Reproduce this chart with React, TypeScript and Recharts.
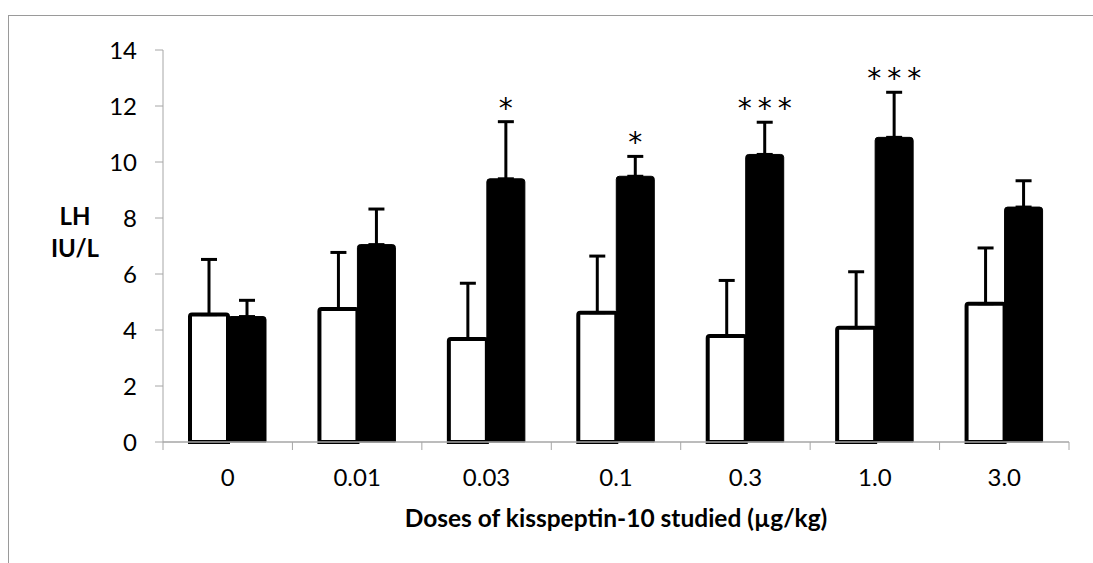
import React from "react";
import { BarChart, Bar, XAxis, YAxis, ErrorBar, LabelList, Label } from "recharts";

const doses = ["0", "0.01", "0.03", "0.1", "0.3", "1.0", "3.0"];
const controlLH = [4.55, 4.75, 3.68, 4.62, 3.79, 4.08, 4.94];
const controlSE = [1.97, 2.02, 1.99, 2.02, 1.98, 2.0, 1.99];
const kisspeptinLH = [4.48, 7.05, 9.4, 9.49, 10.27, 10.88, 8.39];
const kisspeptinSE = [0.58, 1.27, 2.04, 0.71, 1.15, 1.61, 0.94];
const significance = ["", "", "*", "*", "***", "***", ""];
const yTicks = [0, 2, 4, 6, 8, 10, 12, 14];

const data = doses.map((dose, i) => ({
  dose,
  control: controlLH[i],
  controlErr: [0, controlSE[i]],
  kisspeptin: kisspeptinLH[i],
  kisspeptinErr: [0, kisspeptinSE[i]],
  sig: significance[i],
}));

const FONT = "Lato, 'Open Sans', sans-serif";
const AXIS_GREY = "#a6a6a6";

function DoseTick(props: any) {
  const { x, y, payload, index } = props;
  const half = payload.offset ?? 0;
  const last = index === doses.length - 1;
  return (
    <g>
      <line x1={x - half} x2={x - half} y1={y} y2={y + 8} stroke={AXIS_GREY} />
      {last && <line x1={x + half} x2={x + half} y1={y} y2={y + 8} stroke={AXIS_GREY} />}
      <text x={x} y={y + 44} textAnchor="middle" fontFamily={FONT} fontSize={24} fill="#000">
        {payload.value}
      </text>
    </g>
  );
}

// stars sit just above the kisspeptin error bar
function StarLabel(props: any) {
  const vb = props.viewBox ?? props;
  const { x, y, width, height } = vb;
  const i = props.index;
  const value = props.value;
  if (!value || i == null) return null;
  const errPx = (height * kisspeptinSE[i]) / kisspeptinLH[i];
  const top = y - errPx;
  const spacing = 6;
  return (
    <text
      x={x + width / 2 + spacing / 2}
      y={top - 4}
      textAnchor="middle"
      fontFamily="'DejaVu Sans', sans-serif"
      fontSize={28}
      letterSpacing={spacing}
      fill="#000"
    >
      {value}
    </text>
  );
}

export default function App() {
  return (
    <div style={{ position: "relative", width: 1093, height: 563, overflow: "hidden", background: "#fff" }}>
      <style>{`body{margin:0;overflow:hidden}`}</style>
      <div
        style={{
          position: "absolute",
          left: 8,
          top: 15,
          width: 1100,
          height: 560,
          borderTop: `1px solid #9a9a9a`,
          borderLeft: `1px solid #9a9a9a`,
        }}
      />
      <div style={{ position: "absolute", left: 0, top: 0 }}>
        <BarChart
          width={1093}
          height={563}
          data={data}
          margin={{ top: 50, right: 24, left: 63, bottom: 31 }}
          barGap={0}
          barSize={38}
        >
          <XAxis
            dataKey="dose"
            height={90}
            tickLine={false}
            tickSize={0}
            tickMargin={0}
            axisLine={{ stroke: AXIS_GREY, strokeWidth: 1.5 }}
            tick={<DoseTick />}
            interval={0}
          >
            <Label
              content={(p: any) => {
                const vb = p.viewBox;
                return (
                  <text
                    x={vb.x + vb.width / 2}
                    y={vb.y + 85}
                    textAnchor="middle"
                    fontFamily={FONT}
                    fontWeight="bold"
                    fontSize={24.5}
                    fill="#000"
                  >
                    Doses of kisspeptin-10 studied (µg/kg)
                  </text>
                );
              }}
            />
          </XAxis>
          <YAxis
            width={100}
            domain={[0, 14]}
            ticks={yTicks}
            interval={0}
            tickSize={8}
            tickMargin={18}
            tickLine={{ stroke: AXIS_GREY }}
            axisLine={{ stroke: AXIS_GREY }}
            tick={{ fontFamily: FONT, fontSize: 24, fill: "#000" }}
          >
            <Label
              content={(p: any) => {
                const vb = p.viewBox;
                const cy = vb.y + vb.height / 2;
                return (
                  <text fontFamily={FONT} fontWeight="bold" fontSize={24} fill="#000" textAnchor="middle">
                    <tspan x={vb.x + 12} y={cy - 21}>LH</tspan>
                    <tspan x={vb.x + 12} y={cy + 11}>IU/L</tspan>
                  </text>
                );
              }}
            />
          </YAxis>
          <Bar
            dataKey="control"
            fill="#fff"
            stroke="#000"
            strokeWidth={4}
            radius={[2, 2, 0, 0]}
            isAnimationActive={false}
          >
            <ErrorBar dataKey="controlErr" direction="y" width={8} stroke="#000" strokeWidth={3} />
          </Bar>
          <Bar
            dataKey="kisspeptin"
            fill="#000"
            stroke="#000"
            strokeWidth={1}
            radius={[3, 3, 0, 0]}
            isAnimationActive={false}
          >
            <ErrorBar dataKey="kisspeptinErr" direction="y" width={8} stroke="#000" strokeWidth={3} />
            <LabelList dataKey="sig" content={<StarLabel />} />
          </Bar>
        </BarChart>
      </div>
    </div>
  );
}
